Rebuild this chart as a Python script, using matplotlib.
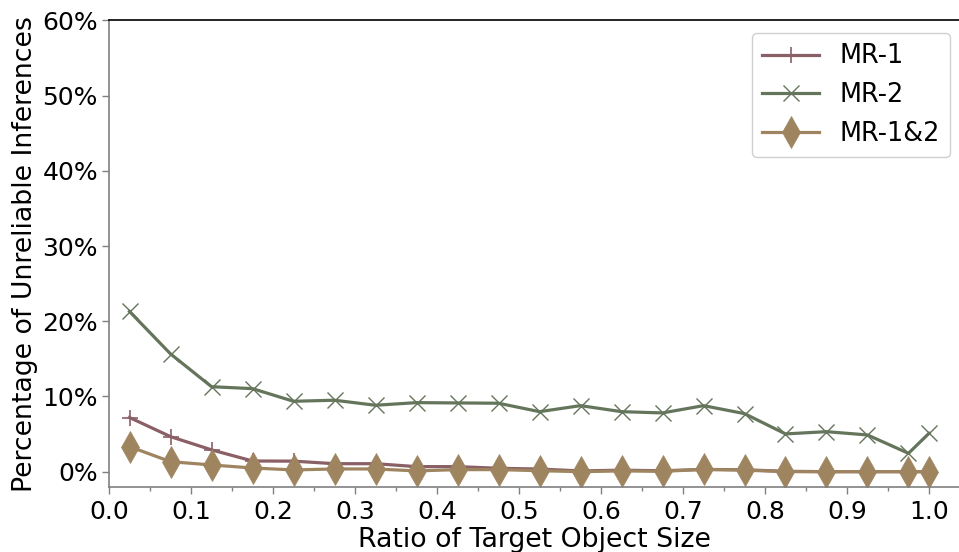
import matplotlib
matplotlib.use("Agg")
import matplotlib.pyplot as plt
from matplotlib.ticker import FuncFormatter, MultipleLocator

x = [0.025, 0.075, 0.125, 0.175, 0.225, 0.275, 0.325, 0.375, 0.425, 0.475,
     0.525, 0.575, 0.625, 0.675, 0.725, 0.775, 0.825, 0.875, 0.925, 0.975, 1.0]
mr1 = [7.2, 4.66, 2.9, 1.42, 1.4, 1.06, 1.06, 0.67, 0.67, 0.45,
       0.35, 0.1, 0.2, 0.12, 0.3, 0.25, 0.05, 0.0, 0.0, 0.0, 0.0]
mr2 = [21.3, 15.66, 11.3, 11.04, 9.36, 9.5, 8.83, 9.18, 9.14, 9.1,
       7.98, 8.78, 7.98, 7.81, 8.78, 7.72, 5.02, 5.32, 4.88, 2.44, 5.1]
mr12 = [3.33, 1.33, 0.89, 0.49, 0.23, 0.36, 0.36, 0.1, 0.27, 0.27,
        0.13, 0.0, 0.1, 0.04, 0.3, 0.2, 0.0, 0.0, 0.0, 0.0, 0.0]
labels = ["MR-1", "MR-2", "MR-1&2"]
xlabel = "Ratio of Target Object Size"
ylabel = "Percentage of Unreliable Inferences"

c1 = "#8a6066"
c2 = "#65755c"
c3 = "#9e8560"

fig = plt.figure(figsize=(9.59, 5.52), dpi=100)
ax = fig.add_axes([0.1137, 0.1172, 0.8863, 0.8457])

ax.plot(x, mr1, color=c1, lw=2.3, marker="+", ms=11, mew=1.2, label=labels[0])
ax.plot(x, mr2, color=c2, lw=2.3, marker="x", ms=12, mew=1.0, label=labels[1])
ax.plot(x, mr12, color=c3, lw=2.3, marker="d", ms=16, mew=0.5, label=labels[2])

ax.set_xlim(0, 1.0366)
ax.set_ylim(-2.08, 60)
ax.xaxis.set_major_locator(MultipleLocator(0.1))
ax.xaxis.set_minor_locator(MultipleLocator(0.05))
ax.yaxis.set_major_locator(MultipleLocator(10))
ax.yaxis.set_major_formatter(FuncFormatter(lambda v, p: f"{int(round(v))}%"))
ax.xaxis.set_major_formatter(FuncFormatter(lambda v, p: f"{v:.1f}"))

ax.tick_params(axis="both", which="major", labelsize=18, length=5, color="#808080", width=1)
ax.tick_params(axis="x", which="minor", length=3, color="#808080", width=1)
ax.tick_params(axis="x", pad=4)
ax.tick_params(axis="y", pad=3)

for s in ["left", "bottom"]:
    ax.spines[s].set_color("#808080")
    ax.spines[s].set_linewidth(1.2)
ax.spines["top"].set_color("black")
ax.spines["top"].set_linewidth(1.2)
ax.spines["right"].set_visible(False)

ax.set_xlabel(xlabel, fontsize=19.3, labelpad=2)
ax.set_ylabel(ylabel, fontsize=19.3, labelpad=3)

leg = ax.legend(loc="upper right", fontsize=18.4, handlelength=2.2,
                bbox_to_anchor=(1.004, 1.0), framealpha=1.0)
leg.get_frame().set_edgecolor("#d0d0d0")

fig.savefig("out.png", dpi=100)
